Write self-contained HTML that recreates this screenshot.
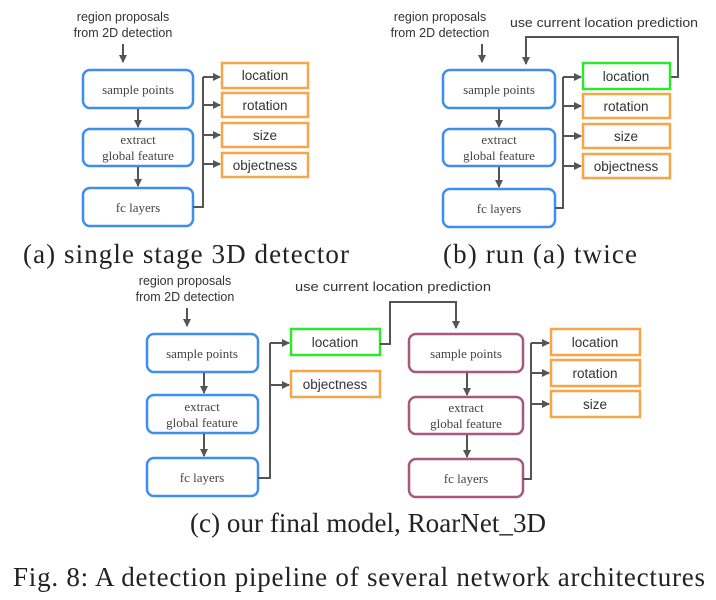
<!DOCTYPE html>
<html><head><meta charset="utf-8"><style>
html,body{margin:0;padding:0;background:#fff;width:716px;height:600px;overflow:hidden}
svg{display:block}
.b{fill:#fff;stroke:#3d8ef0;stroke-width:2.5}
.p{fill:#fff;stroke:#a8577e;stroke-width:2.5}
.o{fill:#fff;stroke:#f7a54a;stroke-width:2.5}
.g{fill:#fff;stroke:#2ee82e;stroke-width:2.5}
.l{fill:none;stroke:#555;stroke-width:2}
.st{font-family:"Liberation Serif",serif;font-size:13px;fill:#444;text-anchor:middle}
.ss{font-family:"Liberation Sans",sans-serif;font-size:13.5px;fill:#333;text-anchor:middle}
.sm{font-family:"Liberation Sans",sans-serif;font-size:12.5px;fill:#333;text-anchor:middle}
.cap{font-family:"Liberation Serif",serif;font-size:27px;fill:#222;text-anchor:middle}
</style></head><body>
<svg width="716" height="600" viewBox="0 0 716 600">
<defs><marker id="a" markerWidth="8" markerHeight="8" refX="7" refY="4" orient="auto" markerUnits="userSpaceOnUse"><path d="M0,0 L8,4 L0,8 z" fill="#555"/></marker></defs>

<!-- Panel A -->
<text class="sm" x="123" y="21">region proposals</text>
<text class="sm" x="123" y="37">from 2D detection</text>
<line class="l" x1="123" y1="44" x2="123" y2="62" marker-end="url(#a)"/>
<rect class="b" x="83" y="70" width="110" height="38" rx="7"/>
<text class="st" x="138" y="94">sample points</text>
<rect class="b" x="83" y="129" width="110" height="37" rx="7"/>
<text class="st" x="138" y="144">extract</text><text class="st" x="138" y="160">global feature</text>
<rect class="b" x="83" y="188" width="110" height="38" rx="7"/>
<text class="st" x="138" y="212">fc layers</text>
<line class="l" x1="138" y1="109" x2="138" y2="127" marker-end="url(#a)"/>
<line class="l" x1="138" y1="167" x2="138" y2="186" marker-end="url(#a)"/>
<path class="l" d="M193,207 H203 V77"/>
<line class="l" x1="203" y1="77" x2="220" y2="77" marker-end="url(#a)"/>
<line class="l" x1="203" y1="105" x2="220" y2="105" marker-end="url(#a)"/>
<line class="l" x1="203" y1="135" x2="220" y2="135" marker-end="url(#a)"/>
<line class="l" x1="203" y1="164" x2="220" y2="164" marker-end="url(#a)"/>
<rect class="o" x="222" y="63" width="86" height="25"/><text class="ss" x="265" y="80">location</text>
<rect class="o" x="222" y="93" width="86" height="24"/><text class="ss" x="265" y="110">rotation</text>
<rect class="o" x="222" y="123" width="86" height="24"/><text class="ss" x="265" y="140">size</text>
<rect class="o" x="222" y="153" width="86" height="24"/><text class="ss" x="265" y="170">objectness</text>
<text class="cap" x="186" y="263" textLength="326" lengthAdjust="spacing">(a) single stage 3D detector</text>

<!-- Panel B -->
<text class="sm" x="440" y="21">region proposals</text>
<text class="sm" x="440" y="37">from 2D detection</text>
<line class="l" x1="482" y1="44" x2="482" y2="62" marker-end="url(#a)"/>
<text class="sm" x="604" y="27" textLength="188" lengthAdjust="spacingAndGlyphs">use current location prediction</text>
<path class="l" d="M670,77 H678 V37 H526 V64" marker-end="url(#a)"/>
<rect class="b" x="443" y="70" width="112" height="38" rx="7"/>
<text class="st" x="499" y="94">sample points</text>
<rect class="b" x="443" y="129" width="112" height="37" rx="7"/>
<text class="st" x="499" y="144">extract</text><text class="st" x="499" y="160">global feature</text>
<rect class="b" x="443" y="189" width="112" height="38" rx="7"/>
<text class="st" x="499" y="213">fc layers</text>
<line class="l" x1="499" y1="109" x2="499" y2="127" marker-end="url(#a)"/>
<line class="l" x1="499" y1="167" x2="499" y2="187" marker-end="url(#a)"/>
<path class="l" d="M555,208 H563 V77"/>
<line class="l" x1="563" y1="77" x2="581" y2="77" marker-end="url(#a)"/>
<line class="l" x1="563" y1="106" x2="581" y2="106" marker-end="url(#a)"/>
<line class="l" x1="563" y1="136" x2="581" y2="136" marker-end="url(#a)"/>
<line class="l" x1="563" y1="166" x2="581" y2="166" marker-end="url(#a)"/>
<rect class="g" x="583" y="63" width="87" height="26"/><text class="ss" x="626" y="81">location</text>
<rect class="o" x="583" y="94" width="87" height="24"/><text class="ss" x="626" y="111">rotation</text>
<rect class="o" x="583" y="124" width="87" height="24"/><text class="ss" x="626" y="141">size</text>
<rect class="o" x="583" y="154" width="87" height="24"/><text class="ss" x="626" y="171">objectness</text>
<text class="cap" x="540" y="263" textLength="194" lengthAdjust="spacing">(b) run (a) twice</text>

<!-- Panel C -->
<text class="sm" x="185" y="285">region proposals</text>
<text class="sm" x="185" y="301">from 2D detection</text>
<line class="l" x1="187" y1="308" x2="187" y2="326" marker-end="url(#a)"/>
<text class="sm" x="393" y="291" textLength="196" lengthAdjust="spacingAndGlyphs">use current location prediction</text>
<rect class="b" x="147" y="334" width="111" height="38" rx="7"/>
<text class="st" x="202" y="358">sample points</text>
<rect class="b" x="147" y="395" width="111" height="38" rx="7"/>
<text class="st" x="202" y="411">extract</text><text class="st" x="202" y="427">global feature</text>
<rect class="b" x="147" y="458" width="111" height="38" rx="7"/>
<text class="st" x="202" y="482">fc layers</text>
<line class="l" x1="204" y1="373" x2="204" y2="393" marker-end="url(#a)"/>
<line class="l" x1="204" y1="434" x2="204" y2="456" marker-end="url(#a)"/>
<path class="l" d="M258,478 H270 V343"/>
<line class="l" x1="270" y1="343" x2="289" y2="343" marker-end="url(#a)"/>
<line class="l" x1="270" y1="385" x2="289" y2="385" marker-end="url(#a)"/>
<rect class="g" x="291" y="329" width="89" height="26"/><text class="ss" x="335" y="347">location</text>
<rect class="o" x="291" y="371" width="89" height="26"/><text class="ss" x="335" y="389">objectness</text>
<path class="l" d="M380,344 H390 V302 H456 V328" marker-end="url(#a)"/>
<rect class="p" x="409" y="334" width="114" height="38" rx="7"/>
<text class="st" x="466" y="358">sample points</text>
<rect class="p" x="409" y="397" width="114" height="37" rx="7"/>
<text class="st" x="466" y="412">extract</text><text class="st" x="466" y="428">global feature</text>
<rect class="p" x="409" y="459" width="114" height="38" rx="7"/>
<text class="st" x="466" y="483">fc layers</text>
<line class="l" x1="467" y1="373" x2="467" y2="395" marker-end="url(#a)"/>
<line class="l" x1="467" y1="435" x2="467" y2="457" marker-end="url(#a)"/>
<path class="l" d="M523,479 H531 V343"/>
<line class="l" x1="531" y1="343" x2="549" y2="343" marker-end="url(#a)"/>
<line class="l" x1="531" y1="373" x2="549" y2="373" marker-end="url(#a)"/>
<line class="l" x1="531" y1="404" x2="549" y2="404" marker-end="url(#a)"/>
<rect class="o" x="551" y="329" width="89" height="26"/><text class="ss" x="595" y="347">location</text>
<rect class="o" x="551" y="360" width="89" height="26"/><text class="ss" x="595" y="378">rotation</text>
<rect class="o" x="551" y="391" width="89" height="26"/><text class="ss" x="595" y="409">size</text>
<text class="cap" x="368" y="532" textLength="356" lengthAdjust="spacing">(c) our final model, RoarNet_3D</text>

<text class="cap" x="359" y="586" textLength="692" lengthAdjust="spacing">Fig. 8: A detection pipeline of several network architectures</text>
</svg>
</body></html>
